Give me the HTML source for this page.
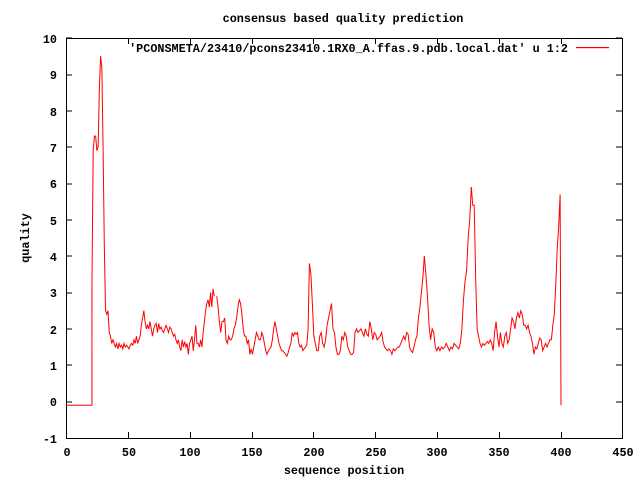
<!DOCTYPE html>
<html><head><meta charset="utf-8"><style>
body{margin:0;background:#fff}
svg text{font-family:"Liberation Mono",monospace;font-size:11.8px;font-weight:bold;fill:#000}
polyline{fill:none;stroke:#f00;stroke-width:1}
</style></head><body>
<svg width="640" height="480" viewBox="0 0 640 480" xmlns="http://www.w3.org/2000/svg">
<rect width="640" height="480" fill="#fff"/>
<g stroke="#000" stroke-width="1" fill="none" shape-rendering="crispEdges">
<rect x="66.5" y="38.5" width="556" height="400"/>
<path d="M66 402h6M622 402h-6M66 365h6M622 365h-6M66 329h6M622 329h-6M66 293h6M622 293h-6M66 256h6M622 256h-6M66 220h6M622 220h-6M66 184h6M622 184h-6M66 147h6M622 147h-6M66 111h6M622 111h-6M66 75h6M622 75h-6M66 38h6M622 38h-6"/>
<path d="M128.5 438v-6M128.5 38v6M190.5 438v-6M190.5 38v6M252.5 438v-6M252.5 38v6M313.5 438v-6M313.5 38v6M375.5 438v-6M375.5 38v6M437.5 438v-6M437.5 38v6M499.5 438v-6M499.5 38v6M561.5 438v-6M561.5 38v6"/>
</g>
<rect x="576" y="47" width="33" height="1.2" fill="#f00"/>
<g text-anchor="end">
<text x="57" y="443">-1</text><text x="57" y="406">0</text><text x="57" y="370">1</text><text x="57" y="334">2</text><text x="57" y="297">3</text><text x="57" y="261">4</text><text x="57" y="225">5</text><text x="57" y="188">6</text><text x="57" y="152">7</text><text x="57" y="116">8</text><text x="57" y="79">9</text><text x="57" y="43">10</text>
<text x="568" y="52">'PCONSMETA/23410/pcons23410.1RX0_A.ffas.9.pdb.local.dat' u 1:2</text>
</g>
<g text-anchor="middle">
<text x="67" y="456">0</text><text x="129" y="456">50</text><text x="190" y="456">100</text><text x="252" y="456">150</text><text x="314" y="456">200</text><text x="376" y="456">250</text><text x="437" y="456">300</text><text x="499" y="456">350</text><text x="561" y="456">400</text><text x="623" y="456">450</text>
<text x="344" y="474">sequence position</text>
<text x="343" y="22">consensus based quality prediction</text>
<text transform="translate(29,238) rotate(-90)">quality</text>
</g>
<g transform="translate(66,401.6) scale(1.2356,-36.36)">
<polyline vector-effect="non-scaling-stroke" points="
0,-0.1 21,-0.1 21,3.2 22,6.9 23,7.3 24,7.3 25,6.9 26,7.0 27,8.6 28,9.5 29,9.2 30,7.0 31,4.3 32,2.5 33,2.4 34,2.5 35,1.9 36,1.8 37,1.6 38,1.7 39,1.6 40,1.5 41,1.6 42,1.45 43,1.6 44,1.5 45,1.55 46,1.45 47,1.6 48,1.5 49,1.55 50,1.5 51,1.45 52,1.55 53,1.6 54,1.55 55,1.7 56,1.6 57,1.8 58,1.6 59,1.7 60,1.8 61,2.1 62,2.3 63,2.5 64,2.2 65,2.0 66,2.1 67,2.0 68,2.2 69,2.0 70,1.8 71,2.0 72,2.1 73,2.15 74,1.9 75,2.15 76,2.0 77,2.05 78,1.95 79,1.9 80,2.0 81,2.1 82,2.0 83,1.9 84,2.05 85,2.0 86,1.9 87,1.8 88,1.85 89,1.7 90,1.6 91,1.7 92,1.5 93,1.4 94,1.7 95,1.5 96,1.65 97,1.5 98,1.6 99,1.3 100,1.6 101,1.7 102,1.8 103,1.4 104,1.7 105,2.1 106,1.6 107,1.6 108,1.5 109,1.7 110,1.5 111,1.9 112,2.2 113,2.5 114,2.7 115,2.8 116,2.6 117,3.0 118,2.6 119,3.1 120,2.9"/>
<g transform="translate(-6.57,0) scale(1.0714,1)"><polyline vector-effect="non-scaling-stroke" points="120,2.9 121,2.6 122,2.2 123,1.9 124,2.2 125,2.2 126,2.3 127,1.7 128,1.6 129,1.8 130,1.7 131,1.7 132,1.8 133,2.0 134,2.1 135,2.3 136,2.6 137,2.8 138,2.7 139,2.4 140,2.0 141,1.8 142,1.8 143,1.6 144,1.7 145,1.3 146,1.45 147,1.3 148,1.5 149,1.7 150,1.9 151,1.8 152,1.7 153,1.7 154,1.9 155,1.8 156,1.6 157,1.4 158,1.3 159,1.4 160,1.45 161,1.5 162,1.7 163,2.0 164,2.2 165,2.0 166,1.8 167,1.6 168,1.5 169,1.4 170,1.4 171,1.35 172,1.3 173,1.25 174,1.35 175,1.5 176,1.6 177,1.9 178,1.8 179,1.9 180,1.85 181,1.9 182,1.6 183,1.5 184,1.55 185,1.4 186,1.45 187,1.5 188,1.55 189,2.0 190,3.8"/></g>
<g transform="translate(-29.54,0) scale(1.1923,1)"><polyline vector-effect="non-scaling-stroke" points="190,3.8 191,3.5 192,2.7 193,1.8 194,1.6 195,1.4 196,1.4 197,1.8 198,1.9 199,1.6 200,1.5 201,1.7 202,2.1 203,2.3 204,2.5 205,2.7 206,2.0 207,1.9 208,1.5 209,1.3 210,1.3 211,1.4 212,1.8 213,1.7 214,1.9 215,1.8 216,1.5 217,1.4 218,1.3 219,1.3 220,1.35 221,1.9 222,2.0 223,1.9 224,1.95 225,2.0 226,1.9 227,1.8 228,2.0 229,1.85 230,1.8 231,2.2 232,2.0 233,1.7 234,1.9 235,1.85 236,1.7 237,1.75 238,1.8 239,1.9 240,1.65 241,1.5 242,1.45 243,1.4 244,1.45 245,1.4 246,1.3 247,1.45 248,1.4 249,1.45 250,1.5 251,1.5 252,1.6 253,1.7 254,1.8 255,1.7 256,1.9 257,1.85 258,1.5 259,1.4 260,1.35 261,1.5 262,1.7 263,1.8 264,2.3 265,2.6 266,3.0 267,3.4 268,4.0"/></g>
<g transform="translate(-49.47,0) scale(1.2667,1)"><polyline vector-effect="non-scaling-stroke" points="268,4.0 269,3.5 270,2.9 271,2.1 272,1.7 273,2.0 274,1.9 275,1.5 276,1.4 277,1.5 278,1.4 279,1.5 280,1.45 281,1.5 282,1.6 283,1.5 284,1.4 285,1.5 286,1.45 287,1.6 288,1.55 289,1.5 290,1.45 291,1.6 292,2.0 293,2.8 294,3.3 295,3.6 296,4.5 297,5.0 298,5.9"/></g>
<g transform="translate(-23.21,0) scale(1.1786,1)"><polyline vector-effect="non-scaling-stroke" points="298,5.9 299,5.4 300,5.4 301,3.4 302,2.0 303,1.8 304,1.6 305,1.5 306,1.6 307,1.55 308,1.6 309,1.65 310,1.6 311,1.7 312,1.6 313,1.4 314,1.9 315,2.2 316,1.8 317,1.5 318,1.9 319,1.6 320,1.5 321,1.8 322,1.9 323,1.6 324,1.7 325,2.0 326,2.3 327,2.2 328,2.0 329,2.3 330,2.45 331,2.3 332,2.5 333,2.4 334,2.1 335,2.1 336,2.0 337,2.1 338,1.9 339,1.8 340,1.6 341,1.3 342,1.5 343,1.45 344,1.6 345,1.75 346,1.7 347,1.4 348,1.5 349,1.6 350,1.5 351,1.6 352,1.7 353,1.7 354,2.1 355,2.4 356,3.2 357,4.2 358,4.8 359,5.7 359.3,2.8 359.6,-0.1"/></g>
</g>
</svg>
</body></html>
